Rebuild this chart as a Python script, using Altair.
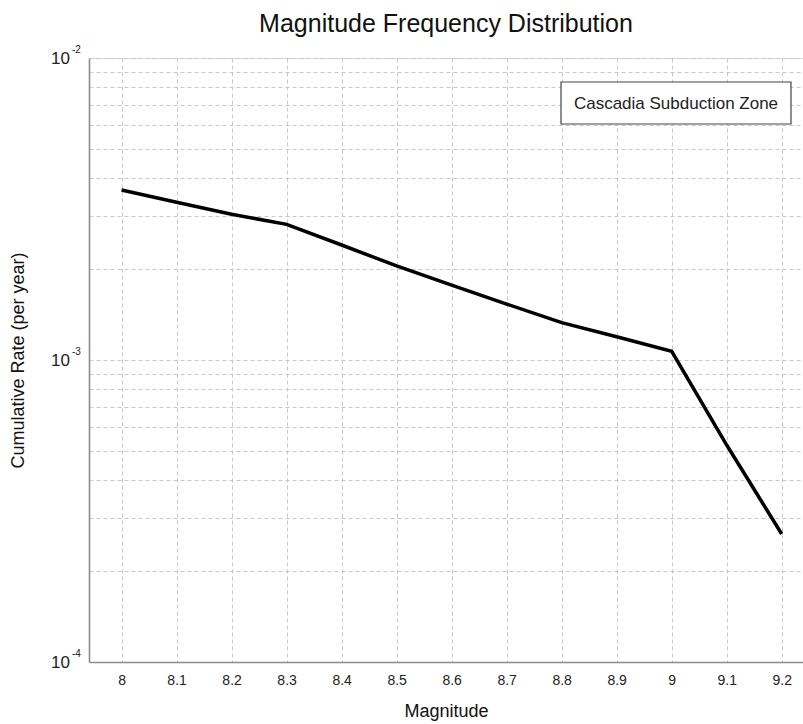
import altair as alt
import pandas as pd

magnitudes = [8.0, 8.1, 8.2, 8.3, 8.4, 8.5, 8.6, 8.7, 8.8, 8.9, 9.0, 9.1, 9.2]
rates = [3.655e-3, 3.33e-3, 3.038e-3, 2.813e-3, 2.403e-3, 2.048e-3, 1.771e-3,
         1.532e-3, 1.329e-3, 1.194e-3, 1.068e-3, 5.23e-4, 2.653e-4]
series_name = ["Cascadia Subduction Zone"]

x_ticks = [8.0, 8.1, 8.2, 8.3, 8.4, 8.5, 8.6, 8.7, 8.8, 8.9, 9.0, 9.1, 9.2]
decades = [1e-2, 1e-3, 1e-4]
decade_base = ["10", "10", "10"]
decade_exp = ["-2", "-3", "-4"]
y_grid = [m * d for d in [1e-4, 1e-3] for m in range(1, 10)] + [1e-2]

FONT = "Liberation Sans"

df = pd.DataFrame({"Magnitude": magnitudes, "Rate": rates})
lab = pd.DataFrame({"v": decades, "base": decade_base, "exp": decade_exp})
leg = pd.DataFrame({"name": series_name})

x_scale = alt.Scale(domain=[7.9408, 9.2387], nice=False, zero=False)
y_scale = alt.Scale(type="log", domain=[1e-4, 1e-2], nice=False)

line = alt.Chart(df).mark_line(strokeWidth=3.5, color="black").encode(
    x=alt.X("Magnitude:Q", scale=x_scale,
            axis=alt.Axis(values=x_ticks, format="~g", title="Magnitude",
                          ticks=False, labelPadding=11, titlePadding=15,
                          grid=True, gridDash=[4, 3], gridColor="#c8c8c8",
                          gridWidth=1, domainColor="#8c8c8c", domainWidth=1.6,
                          labelFontSize=14, labelColor="#222", titleFontSize=18,
                          titleFontWeight="normal", titleColor="#111",
                          labelFont=FONT, titleFont=FONT)),
    y=alt.Y("Rate:Q", scale=y_scale,
            axis=alt.Axis(values=y_grid, labels=False, ticks=False,
                          title="Cumulative Rate (per year)",
                          titlePadding=62, titleFontSize=18,
                          titleFontWeight="normal", titleColor="#111",
                          grid=True, gridDash=[4, 3], gridColor="#c8c8c8",
                          gridWidth=1, domainColor="#8c8c8c", domainWidth=1.6,
                          titleFont=FONT)),
)

base_txt = alt.Chart(lab).mark_text(align="right", baseline="middle", fontSize=17,
                                    font=FONT, color="#222", dy=1).encode(
    x=alt.value(-19), y=alt.Y("v:Q", scale=y_scale), text="base:N")
exp_txt = alt.Chart(lab).mark_text(align="left", baseline="middle", fontSize=10,
                                   font=FONT, color="#222", dy=-8.5).encode(
    x=alt.value(-17), y=alt.Y("v:Q", scale=y_scale), text="exp:N")

legend_box = alt.Chart(leg).mark_rect(fill="white", stroke="#444", strokeWidth=1.2).encode(
    x=alt.value(472), x2=alt.value(702), y=alt.value(24), y2=alt.value(66))
legend_txt = alt.Chart(leg).mark_text(align="center", baseline="middle", fontSize=17,
                                      font=FONT, color="#222").encode(
    x=alt.value(587), y=alt.value(45.5), text="name:N")

chart = alt.layer(line, base_txt, exp_txt, legend_box, legend_txt).properties(
    width=714, height=604,
    title=alt.TitleParams("Magnitude Frequency Distribution", fontSize=25,
                          font=FONT, fontWeight="normal", color="#111",
                          anchor="middle", offset=8),
    autosize=alt.AutoSizeParams(type="none"),
    padding={"left": 89, "top": 58, "right": 0, "bottom": 62},
).configure_view(stroke="#8c8c8c", strokeWidth=1.2).configure(background="white")

chart.save("out.html", embed_options={"renderer": "svg", "actions": False})
